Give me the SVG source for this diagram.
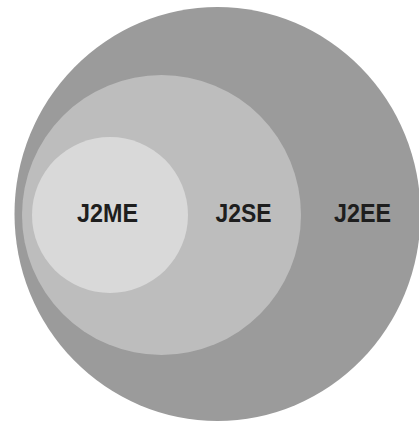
<svg xmlns="http://www.w3.org/2000/svg" width="419" height="424" viewBox="0 0 419 424">
<style>
.lbl{font-family:"Liberation Sans",Arial,sans-serif;font-weight:bold;font-size:25.5px;fill:#1e1e1e}
</style>
<rect width="419" height="424" fill="#ffffff"/>
<g id="j2ee">
<ellipse cx="217.5" cy="214" rx="203" ry="207" fill="#9b9b9b"/>
<text class="lbl" x="334" y="222" textLength="57" lengthAdjust="spacingAndGlyphs">J2EE</text>
</g>
<g id="j2se">
<ellipse cx="161.5" cy="215" rx="139.5" ry="140" fill="#bdbdbd"/>
<text class="lbl" x="215.5" y="222" textLength="56" lengthAdjust="spacingAndGlyphs">J2SE</text>
</g>
<g id="j2me">
<circle cx="110" cy="215" r="78" fill="#d9d9d9"/>
<text class="lbl" x="77" y="222" textLength="61" lengthAdjust="spacingAndGlyphs">J2ME</text>
</g>
<g id="connectors"/>
</svg>
